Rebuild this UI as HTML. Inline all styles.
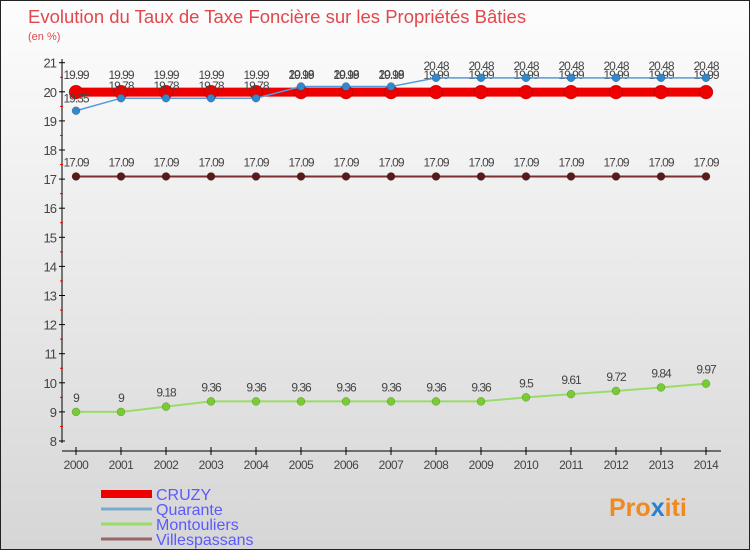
<!DOCTYPE html>
<html><head><meta charset="utf-8"><style>
body{margin:0;}
#c{width:750px;height:550px;position:relative;background:linear-gradient(#fdfdfd,#d6d6d6);box-sizing:border-box;border:1px solid #222;font-family:"Liberation Sans",sans-serif;overflow:hidden}
svg text{font-family:"Liberation Sans",sans-serif}
</style></head><body>
<div id="c">
<svg id="s" width="750" height="550">
<text x="27" y="22" font-size="18.5" fill="#e0484c">Evolution du Taux de Taxe Foncière sur les Propriétés Bâties</text>
<text x="27" y="39" font-size="11" fill="#e0484c">(en %)</text>
<text x="608" y="515" font-size="25" font-weight="bold" fill="#f08a20">Pro<tspan fill="#2a7fd0">x</tspan>iti</text>
</svg>
</div>
<script>
const years=[2000,2001,2002,2003,2004,2005,2006,2007,2008,2009,2010,2011,2012,2013,2014];
const cruzy=[19.99,19.99,19.99,19.99,19.99,19.99,19.99,19.99,19.99,19.99,19.99,19.99,19.99,19.99,19.99];
const quarante=[19.35,19.78,19.78,19.78,19.78,20.18,20.18,20.18,20.48,20.48,20.48,20.48,20.48,20.48,20.48];
const montouliers=[9,9,9.18,9.36,9.36,9.36,9.36,9.36,9.36,9.36,9.5,9.61,9.72,9.84,9.97];
const villes=[17.09,17.09,17.09,17.09,17.09,17.09,17.09,17.09,17.09,17.09,17.09,17.09,17.09,17.09,17.09];
const yTicks=[8,9,10,11,12,13,14,15,16,17,18,19,20,21];
const NS="http://www.w3.org/2000/svg";
const s=document.getElementById('s');
const X=i=>75+45*i;
const Y=v=>440-(v-8)*29.1;
function mk(t,a,p){const e=document.createElementNS(NS,t);for(const k in a)e.setAttribute(k,a[k]);(p||s).appendChild(e);return e;}
let ya=mk('line',{x1:61,y1:58,x2:61,y2:442,stroke:'#000','stroke-width':1});


let xa=mk('line',{x1:61,y1:450,x2:720,y2:450,stroke:'#000','stroke-width':1});


yTicks.forEach(v=>{
  mk('line',{x1:58,y1:Y(v),x2:64,y2:Y(v),stroke:'#000'});
  if(v<21) mk('line',{x1:59,y1:Y(v+0.5),x2:62,y2:Y(v+0.5),stroke:'#e00'});
  const t=mk('text',{x:55,y:Y(v)+5,'font-size':13,fill:'#444','text-anchor':'end','letter-spacing':'-1'});
  t.textContent=v;
  
  
});
years.forEach((y,i)=>{
  mk('line',{x1:X(i),y1:446,x2:X(i),y2:454,stroke:'#000'});
  const t=mk('text',{x:X(i),y:468,'font-size':12,fill:'#444','text-anchor':'middle','letter-spacing':'-0.5'});
  t.textContent=y;
  
  
});
function series(vals,color,w,r,fill,name,labDy){
  const pl=mk('polyline',{points:vals.map((v,i)=>X(i)+','+Y(v)).join(' '),fill:'none',stroke:color,'stroke-width':w});
  
  
  vals.forEach((v,i)=>{
    const c=mk('circle',{cx:X(i),cy:Y(v),r:r,fill:fill,stroke:'rgba(0,0,0,0.3)','stroke-width':0.5});
    
    
    const t=mk('text',{x:X(i),y:Y(v)+labDy,'font-size':12,fill:'#444','text-anchor':'middle','letter-spacing':'-1'});
    t.textContent=v;
    
    
  });
}
series(montouliers,'#99dd66',2,4,'#77cc33','montouliers',-10);
series(villes,'#7a3030',2,4,'#5a1a1a','villespassans',-10);
series(cruzy,'#ee0000',9,7,'#ee0000','cruzy',-13);
series(quarante,'#5599dd',1.5,4,'#3388cc','quarante',-8);
const leg=[['CRUZY','#ee0000',8],['Quarante','#7aaacc',3],['Montouliers','#99dd66',3],['Villespassans','#996666',3]];
leg.forEach((l,i)=>{
  const y=493+i*15;
  const ln=mk('line',{x1:100,y1:y,x2:151,y2:y,stroke:l[1],'stroke-width':l[2]});
  
  
  const t=mk('text',{x:155,y:y+6,'font-size':16,fill:'#5a5aff'});
  t.textContent=l[0];
  
  
});
</script>
</body></html>
